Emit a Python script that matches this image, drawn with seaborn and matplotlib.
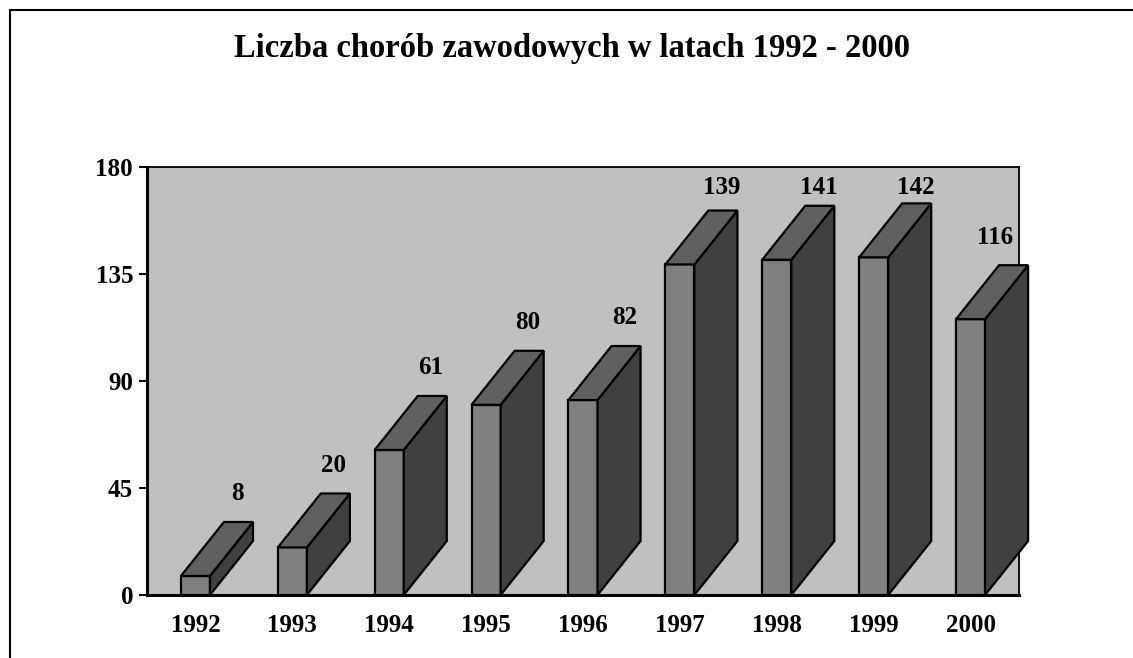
import matplotlib
matplotlib.use("Agg")
import matplotlib.pyplot as plt
from matplotlib.patches import Polygon, Rectangle
import seaborn as sns
import pandas as pd

years = ["1992", "1993", "1994", "1995", "1996", "1997", "1998", "1999", "2000"]
values = [8, 20, 61, 80, 82, 139, 141, 142, 116]
yticks = [0, 45, 90, 135, 180]
title = "Liczba chorób zawodowych w latach 1992 - 2000"

plt.rcParams["font.family"] = ["Liberation Serif", "DejaVu Serif"]
plt.rcParams["font.weight"] = "bold"

W, H = 1133, 658
fig = plt.figure(figsize=(W / 100, H / 100), dpi=100)
ax = fig.add_axes([147 / W, 1 - 595 / H, (1019 - 147) / W, (595 - 167) / H])

df = pd.DataFrame({"year": years, "value": values})
sns.barplot(data=df, x="year", y="value", order=years, width=0.3,
            color="#808080", saturation=1, edgecolor="black", linewidth=1.6, ax=ax, zorder=3)

ax.set_facecolor("#C0C0C0")
ax.set_xlim(-0.5, 8.5)
ax.set_ylim(0, 180)
ax.set_yticks(yticks)
ax.set_xlabel("")
ax.set_ylabel("")

dx, dy = 0.444, 22.7
for p in ax.patches[:len(values)]:
    xl = p.get_x()
    xr = xl + p.get_width()
    v = p.get_height()
    top = Polygon([(xl, v), (xl + dx, v + dy), (xr + dx, v + dy), (xr, v)], closed=True,
                  facecolor="#606060", edgecolor="black", linewidth=1.6, clip_on=False, zorder=3)
    side = Polygon([(xr, 0), (xr + dx, dy), (xr + dx, v + dy), (xr, v)], closed=True,
                   facecolor="#404040", edgecolor="black", linewidth=1.6, clip_on=False, zorder=3)
    ax.add_patch(side)
    ax.add_patch(top)

for i, v in enumerate(values):
    ax.text(min(i + 0.43, 8.25), min(v + 34.5, 171.5), str(v), ha="center", va="center",
            fontsize=18, fontweight="bold", zorder=4, clip_on=False)

for s in ["top", "right"]:
    ax.spines[s].set_linewidth(1.3)
for s in ["left", "bottom"]:
    ax.spines[s].set_linewidth(2.2)
for s in ax.spines.values():
    s.set_color("black")

ax.tick_params(axis="y", length=6, width=1.5, pad=4, labelsize=18)
ax.tick_params(axis="x", length=0, pad=14, labelsize=18)
for lab in ax.get_xticklabels() + ax.get_yticklabels():
    lab.set_fontweight("bold")

fig.text(572 / W, 1 - 48 / H, title, ha="center", va="center", fontsize=23.5, fontweight="bold")

fig.patches.append(Rectangle((10 / W, -0.1), 1.2, 1 - 10 / H + 0.1, transform=fig.transFigure,
                             fill=False, edgecolor="black", linewidth=1.5))

fig.savefig("out.png", dpi=100)
